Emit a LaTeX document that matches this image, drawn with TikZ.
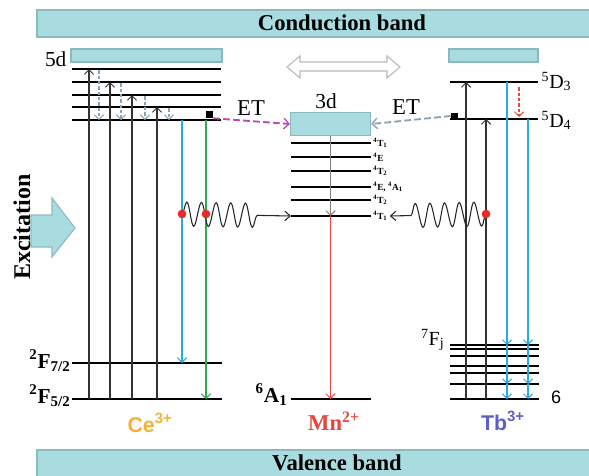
\documentclass[tikz,border=0pt]{standalone}
\usepackage{fontspec}
\setmainfont{Liberation Serif}
\setsansfont{Liberation Sans}
\usetikzlibrary{arrows.meta,positioning,decorations.pathmorphing}
\definecolor{lumBand}{HTML}{A9DCE1}
\definecolor{lumBandEdge}{HTML}{8CB9BE}
\definecolor{lumCyan}{HTML}{29ABE2}
\definecolor{lumGreen}{HTML}{2DAA4F}
\definecolor{lumRed}{HTML}{E8453C}
\definecolor{lumMagenta}{HTML}{B84BB8}
\definecolor{lumSlate}{HTML}{8AA3AE}
\definecolor{lumRelax}{HTML}{8BA5B5}
\definecolor{lumOrange}{HTML}{F6B230}
\definecolor{lumViolet}{HTML}{5E5FC4}
\definecolor{lumDot}{HTML}{E52A2A}
\tikzset{
  bandbox/.style={rectangle,draw=lumBandEdge,fill=lumBand,line width=0.8pt,inner sep=0pt},
  levelline/.style={line width=1.4pt,black},
  barb/.style={-{Straight Barb[length=3.5pt,width=7pt,line width=0.7pt]}},
  pumparrow/.style={barb,draw=black!80,line width=0.8pt},
  relaxarrow/.style={barb,draw=lumRelax,line width=0.8pt,dash pattern=on 2.5pt off 1.5pt},
  emitarrow/.style={barb,line width=0.9pt},
  etarrow/.style={-{Straight Barb[length=4pt,width=8pt,line width=1pt]},line width=1.4pt,
    dash pattern=on 5pt off 2.5pt},
  wavearrow/.style={-{Straight Barb[length=4pt,width=7pt]},line width=0.8pt,draw=black!85,
    decorate,decoration={snake,amplitude=9pt,segment length=11pt}},
  dotmark/.style={circle,fill=lumDot,inner sep=0pt,minimum size=6.5pt},
  sqmark/.style={rectangle,fill=black,inner sep=0pt,minimum size=5.25pt},
  termlabel/.style={font=\fontsize{15}{17}\selectfont,inner sep=1pt},
  boldterm/.style={font=\fontsize{16}{18}\selectfont\bfseries,inner sep=1pt},
  statelabel/.style={font=\fontsize{7}{8}\selectfont\bfseries,anchor=west,inner sep=1pt},
  ionlabel/.style={font=\fontsize{16}{18}\selectfont\sffamily\bfseries}
}

\begin{document}
\begin{tikzpicture}[x=0.75pt,y=-0.75pt]
  \useasboundingbox (0,0) rectangle (589,475);
  % bands
  \draw[bandbox] (37,10) rectangle (595,37);
  \node[font=\fontsize{17}{20}\selectfont\bfseries,inner sep=0pt,anchor=base] (cbText) at (342,30) {Conduction band};
  \draw[bandbox] (37,450) rectangle (595,480);
  \node[font=\fontsize{17}{20}\selectfont\bfseries,inner sep=0pt,anchor=base] (vbText) at (337,470) {Valence band};

  % excitation
  \draw[bandbox] (31,215) -- (52,215) -- (52,198) -- (75,228) -- (52,257) -- (52,247) -- (31,247) -- cycle;
  \node[rotate=90,font=\fontsize{18}{20}\selectfont\bfseries] (excText) at (22,227) {Excitation};

  % Ce3+
  \draw[bandbox] (71,49) rectangle (222,62);
  \node[termlabel,font=\fontsize{16}{18}\selectfont,anchor=base east] (ce5d) at (68,66) {5d};
  \foreach \y [count=\i] in {69,82,95,107,120}
    \draw[levelline] (72,\y) coordinate (ceD\i) -- (221,\y);
  \draw[levelline] (72,363) coordinate (ceF7) -- (222,363);
  \draw[levelline] (72,399) coordinate (ceF5) -- (222,399);
  \node[boldterm,anchor=base east] (ceF7Text) at (72,368) {\textsuperscript{2}F\textsubscript{7/2}};
  \node[boldterm,anchor=base east] (ceF5Text) at (72,403) {\textsuperscript{2}F\textsubscript{5/2}};
  \foreach \x/\i in {89/1,110/2,132/3,157/4}
    \draw[pumparrow] (\x,0 |- ceF5) -- (\x,0 |- ceD\i);
  \foreach \x/\i in {99/1,121/2,145/3,169/4}
    \draw[relaxarrow,shorten <=1pt] (\x,0 |- ceD\i) -- (\x,0 |- ceD5);
  \draw[emitarrow,draw=lumCyan] (182,0 |- ceD5) -- (182,0 |- ceF7);
  \draw[emitarrow,draw=lumGreen] (206,0 |- ceD5) -- (206,0 |- ceF5);
  \node[sqmark] (ceSq) at (209.5,114.5) {};
  \node[ionlabel,text=lumOrange] (ceIon) at (150,423) {Ce\textsuperscript{3+}};

  % Mn2+
  \draw[gray!55,fill=white,line width=0.8pt] (287,67) -- (300,56) -- (300,62) -- (387,62) -- (387,56)
    -- (400,67) -- (387,78) -- (387,71) -- (300,71) -- (300,78) -- cycle;
  \node[termlabel,font=\fontsize{16}{18}\selectfont] (mn3dText) at (326,101) {3d};
  \node[bandbox,anchor=north west,minimum width=60pt,minimum height=17.25pt] (mn3d) at (290,112) {};
  \foreach \y/\t [count=\i] in {143/{\textsuperscript{4}T\textsubscript{1}},157/{\textsuperscript{4}E},
      171/{\textsuperscript{4}T\textsubscript{2}},187/{\textsuperscript{4}E, \textsuperscript{4}A\textsubscript{1}},
      200/{\textsuperscript{4}T\textsubscript{2}},216/{\textsuperscript{4}T\textsubscript{1}}}
    \draw[levelline] (291,\y) coordinate (mnL\i) -- (371,\y) node[statelabel] (mnS\i) {\t};
  \draw[levelline] (291,399) coordinate (mnA) -- (371,399);
  \node[boldterm,anchor=base east] (mnAText) at (289,402) {\textsuperscript{6}A\textsubscript{1}};
  \draw[barb,draw=gray,line width=0.8pt] (mn3d.south) -- (mn3d.south |- mnL6);
  \draw[emitarrow,draw=lumRed] (mn3d.south |- mnL6) -- (mn3d.south |- mnA);
  \node[ionlabel,font=\fontsize{17}{19}\selectfont\rmfamily\bfseries,text=lumRed] (mnIon) at (334,421) {Mn\textsuperscript{2+}};

  % Tb3+
  \draw[bandbox] (449,49) rectangle (538,62);
  \draw[levelline] (450,82) coordinate (tbD3) -- (538,82);
  \draw[levelline] (450,119) coordinate (tbD4) -- (538,119);
  \node[termlabel,anchor=base west] (tbD3Text) at (540,88) {\textsuperscript{5}D\textsubscript{3}};
  \node[termlabel,anchor=base west] (tbD4Text) at (540,127) {\textsuperscript{5}D\textsubscript{4}};
  \foreach \y [count=\i] in {345,349,356,366,373,384,399}
    \draw[levelline] (450,\y) coordinate (tbF\i) -- (539,\y);
  \node[termlabel,anchor=base east] (tbFText) at (446,345) {\textsuperscript{7}F\textsubscript{j}};
  \node[font=\fontsize{13.5}{16}\selectfont\sffamily] (tbSix) at (556,397) {6};
  \draw[pumparrow] (466,0 |- tbF7) -- (466,0 |- tbD3);
  \draw[pumparrow] (486,0 |- tbF7) -- (486,0 |- tbD4);
  \foreach \x/\top in {507/tbD3,528/tbD4}{
    \draw[emitarrow,draw=lumCyan] (\x,0 |- \top) -- (\x,0 |- tbF1);
    \draw[emitarrow,draw=lumCyan] (\x,0 |- tbF1) -- (\x,0 |- tbF6);
    \draw[emitarrow,draw=lumCyan] (\x,0 |- tbF6) -- (\x,0 |- tbF7);
  }
  \draw[relaxarrow,draw=lumRed,shorten <=4pt,shorten >=1.5pt] (519,0 |- tbD3) -- (519,0 |- tbD4);
  \node[sqmark] (tbSq) at (454.5,116) {};
  \node[ionlabel,text=lumViolet] (tbIon) at (503,421) {Tb\textsuperscript{3+}};

  % energy transfer
  \draw[etarrow,draw=lumMagenta] (ceSq.south east) -- (mn3d.west);
  \node[termlabel,font=\fontsize{17}{19}\selectfont] (etLeft) at (251,108) {ET};
  \draw[etarrow,draw=lumSlate] (tbSq.west) -- (mn3d.east);
  \node[termlabel,font=\fontsize{17}{19}\selectfont] (etRight) at (406,107) {ET};

  % phonon-assisted transfer
  \coordinate (ceWave) at (182,214);
  \coordinate (tbWave) at (486,214);
  \draw[wavearrow,decoration={post length=21pt}] (ceWave) -- (mnL6);
  \draw[wavearrow,decoration={post length=15pt}] (tbWave) -- (mnS6.east);
  \node[dotmark] (ceDotA) at (ceWave) {};
  \node[dotmark] (ceDotB) at (206,214) {};
  \node[dotmark] (tbDot) at (tbWave) {};
\end{tikzpicture}
\end{document}
